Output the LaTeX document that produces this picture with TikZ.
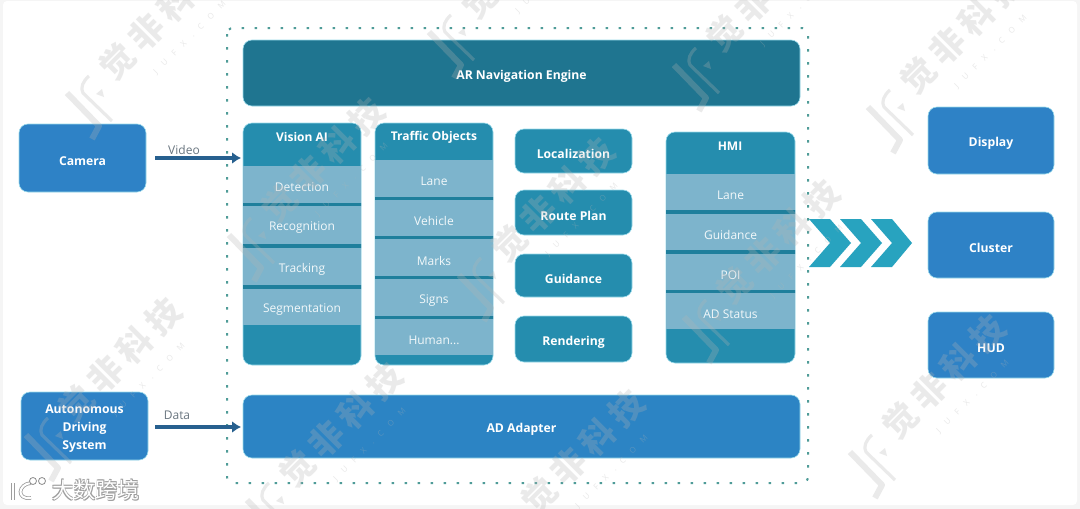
\documentclass[tikz,border=0pt]{standalone}
\usepackage{fontspec}
\setmainfont{Open Sans}
\newfontfamily\cjkwm{Noto Sans CJK SC}
\usetikzlibrary{arrows.meta}
\definecolor{cblue}{HTML}{2E82C6}
\definecolor{cadapter}{HTML}{2C84C4}
\definecolor{cengine}{HTML}{1F7590}
\definecolor{cpanel}{HTML}{258DAE}
\definecolor{cband}{HTML}{1F7F9C}
\definecolor{cstrip}{HTML}{7DB4CC}
\definecolor{carrow}{HTML}{27608F}
\definecolor{cchev}{HTML}{28A3BF}
\definecolor{cdots}{HTML}{4F9C98}
\definecolor{clabel}{HTML}{6A7680}
\definecolor{cedge}{HTML}{9ADBEB}
\definecolor{cwm}{HTML}{B4B4B4}
\tikzset{
  x=1pt,y=-1pt,
  basebox/.style={rounded corners=9pt,inner sep=0pt,draw=cedge,line width=.6pt},
  bluebox/.style={basebox,fill=cblue},
  adapterbox/.style={basebox,fill=cadapter},
  enginebox/.style={basebox,fill=cengine},
  tealbox/.style={basebox,fill=cpanel},
  stripbox/.style={inner sep=0pt,fill=cstrip},
  boxlabel/.style={inner sep=0pt,align=center,text=white,font=\fontsize{12.2}{18}\selectfont\bfseries},
  striplabel/.style={inner sep=0pt,text=white!90!cstrip,font=\fontsize{12}{14}\selectfont},
  paneltitle/.style={inner sep=0pt,text=white,font=\fontsize{12}{14}\selectfont\bfseries},
  flow/.style={draw=carrow,line width=3.2pt,-{Latex[length=9pt,width=12pt]}},
  flowlabel/.style={inner sep=0pt,text=clabel,font=\fontsize{12}{14}\selectfont},
  chev/.style={fill=cchev},
  frame/.style={draw=cdots,line width=2pt,dash pattern=on 2.5pt off 10.5pt},
  wmtext/.style={inner sep=0pt,rotate=45,text=cwm,opacity=.27,font=\cjkwm\fontsize{34}{34}\selectfont\bfseries\addfontfeature{LetterSpace=20}},
  wmsmall/.style={inner sep=0pt,rotate=45,text=cwm,opacity=.3,font=\fontsize{8}{8}\selectfont\addfontfeature{LetterSpace=110}},
  wmstroke/.style={draw=cwm,opacity=.27,line width=6pt,line join=round},
  logotext/.style={inner sep=0pt,text=white,font=\cjkwm\fontsize{22}{22}\selectfont},
  logoshadow/.style={inner sep=0pt,text=black!38,font=\cjkwm\fontsize{22}{22}\selectfont},
}
\newcommand{\bx}[7]{%
  \pgfmathsetmacro{\bxcx}{(#3+#5)/2}\pgfmathsetmacro{\bxcy}{(#4+#6)/2}%
  \pgfmathsetmacro{\bxw}{#5-#3}\pgfmathsetmacro{\bxh}{#6-#4}%
  \node[#2,minimum width=\bxw pt,minimum height=\bxh pt] (#1) at (\bxcx,\bxcy) {};}
\newcommand{\lb}[3]{\node[#2] (#1label) at ([yshift=-3pt]#1.center) {#3};}
\newcommand{\wm}[3]{%
  \begin{scope}[shift={(#2,#3)}]
    \draw[wmstroke] (-21,-15) -- (11,18) -- (4,31);
    \draw[wmstroke,line width=3.2pt] (1,-32) .. controls (-5,-27) and (-8,-20) .. (-5,-15) -- (24,13);
    \fill[cwm,opacity=.27] (8,-14) -- (14,-19) -- (16,-11) -- cycle;
    \node[wmtext] (#1t) at (73,-90) {觉非科技};
    \node[wmsmall] (#1s) at (102,-70) {JUFX.COM};
  \end{scope}}
\begin{document}
\begin{tikzpicture}
\useasboundingbox (0,0) rectangle (1080,509);
\fill[black!4] (0,0) rectangle (1080,509);
\fill[white,rounded corners=4pt] (3,1) rectangle (1077,505);
% frame
\draw[frame,rounded corners=6pt] (227,28) rectangle (808,483);
% top and bottom bars
\bx{engine}{enginebox}{243}{40}{800}{106}{}
\lb{engine}{boxlabel}{AR Navigation Engine}
\bx{adapter}{adapterbox}{243}{395}{800}{458}{}
\lb{adapter}{boxlabel}{AD Adapter}
% left inputs
\bx{camera}{bluebox}{19}{124}{146}{192}{}
\lb{camera}{boxlabel}{Camera}
\bx{ads}{bluebox}{21}{392}{148}{460}{}
\lb{ads}{boxlabel}{Autonomous\\Driving\\System}
% Vision AI
\bx{vision}{tealbox}{243}{123}{361}{365}{}
\node[paneltitle] (visiontitle) at (302,137) {Vision AI};
\fill[cband] (243,203) rectangle (361,206) (243,244) rectangle (361,248) (243,285) rectangle (361,289);
\bx{vdet}{stripbox}{243}{166}{361}{203}{}
\lb{vdet}{striplabel}{Detection}
\bx{vrec}{stripbox}{243}{206}{361}{244}{}
\lb{vrec}{striplabel}{Recognition}
\bx{vtra}{stripbox}{243}{248}{361}{285}{}
\lb{vtra}{striplabel}{Tracking}
\bx{vseg}{stripbox}{243}{289}{361}{325}{}
\lb{vseg}{striplabel}{Segmentation}
% Traffic Objects
\bx{traffic}{tealbox}{375}{123}{493}{365}{}
\node[paneltitle] (traffictitle) at (434,137) {Traffic Objects};
\fill[cband] (375,197) rectangle (493,200) (375,236) rectangle (493,239) (375,276) rectangle (493,279) (375,316) rectangle (493,319);
\bx{tlan}{stripbox}{375}{160}{493}{197}{}
\lb{tlan}{striplabel}{Lane}
\bx{tveh}{stripbox}{375}{200}{493}{236}{}
\lb{tveh}{striplabel}{Vehicle}
\bx{tmar}{stripbox}{375}{239}{493}{276}{}
\lb{tmar}{striplabel}{Marks}
\bx{tsig}{stripbox}{375}{279}{493}{316}{}
\lb{tsig}{striplabel}{Signs}
\bx{thum}{stripbox}{375}{319}{493}{355}{}
\lb{thum}{striplabel}{Human...}
% middle column
\bx{loc}{tealbox}{515}{129}{632}{173}{}
\lb{loc}{boxlabel}{Localization}
\bx{route}{tealbox}{515}{190}{632}{235}{}
\lb{route}{boxlabel}{Route Plan}
\bx{guid}{tealbox}{515}{254}{632}{297}{}
\lb{guid}{boxlabel}{Guidance}
\bx{rend}{tealbox}{515}{316}{632}{362}{}
\lb{rend}{boxlabel}{Rendering}
% HMI
\bx{hmi}{tealbox}{666}{132}{795}{363}{}
\node[paneltitle] (hmititle) at (730,146) {HMI};
\fill[cband] (666,210) rectangle (795,214) (666,250) rectangle (795,254) (666,290) rectangle (795,293);
\bx{hlan}{stripbox}{666}{174}{795}{210}{}
\lb{hlan}{striplabel}{Lane}
\bx{hgui}{stripbox}{666}{214}{795}{250}{}
\lb{hgui}{striplabel}{Guidance}
\bx{hpoi}{stripbox}{666}{254}{795}{290}{}
\lb{hpoi}{striplabel}{POI}
\bx{hsta}{stripbox}{666}{293}{795}{329}{}
\lb{hsta}{striplabel}{AD Status}
% outputs
\bx{display}{bluebox}{928}{107}{1054}{174}{}
\lb{display}{boxlabel}{Display}
\bx{cluster}{bluebox}{928}{212}{1054}{278}{}
\lb{cluster}{boxlabel}{Cluster}
\bx{hud}{bluebox}{928}{312}{1054}{378}{}
\lb{hud}{boxlabel}{HUD}
% chevrons
\fill[chev] (809,219) -- (830,219) -- (851,243) -- (830,267) -- (809,267) -- (830,243) -- cycle;
\fill[chev] (840,219) -- (861,219) -- (882,243) -- (861,267) -- (840,267) -- (861,243) -- cycle;
\fill[chev] (871,219) -- (892,219) -- (912,243) -- (892,267) -- (871,267) -- (892,243) -- cycle;
% connectors
\coordinate (videoin) at (241,158);
\coordinate (videoout) at (155,158);
\draw[flow] (videoout) -- (videoin);
\node[flowlabel] (videolabel) at (184,150) {Video};
\coordinate (datain) at (241,427);
\coordinate (dataout) at (155,427);
\draw[flow] (dataout) -- (datain);
\node[flowlabel] (datalabel) at (177,415) {Data};
% watermarks
\begin{scope}
\clip (0,0) rectangle (1080,509);
\wm{a}{88}{108}
\wm{b}{450}{47}
\wm{c}{695}{80}
\wm{d}{889}{122}
\wm{e}{250}{250}
\wm{f}{480}{290}
\wm{g}{705}{332}
\wm{h}{47}{450}
\wm{i}{268}{515}
\wm{j}{510}{542}
\wm{k}{871}{467}
\end{scope}
% logo
\foreach \dx/\dy [count=\i] in {-.9/-.9,.9/-.9,-.9/.9,.9/.9}
  \node[logoshadow] (logoback\i) at (96+\dx,490+\dy) {大数跨境};
\node[logotext] (logo) at (96,490) {大数跨境};
\draw[black!38,line width=3.6pt] (13,483) -- (13,500);
\draw[white,line width=2pt] (13,483) -- (13,500);
\draw[black!38,line width=3.6pt] (31,483) .. controls (18,484) and (16,500) .. (31,498);
\draw[white,line width=2pt] (31,483) .. controls (18,484) and (16,500) .. (31,498);
\draw[black!45,fill=white,line width=.8pt] (33,481) circle (3.5);
\draw[black!45,fill=white,line width=.8pt] (42,481) circle (3.5);
\end{tikzpicture}
\end{document}
